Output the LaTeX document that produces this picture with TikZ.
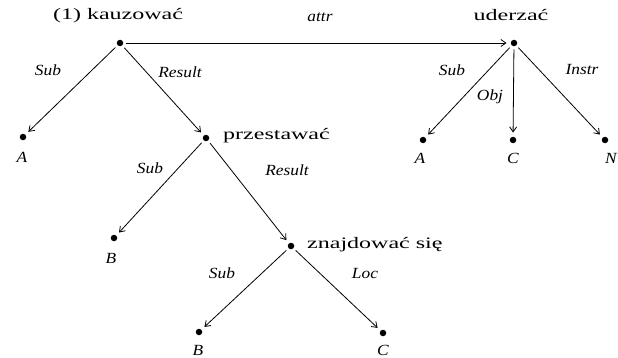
\documentclass[tikz,border=0pt]{standalone}
\usepackage{fontspec}
\setmainfont{Liberation Serif}
\newfontfamily\wordfont[FakeStretch=1.5]{Liberation Serif}
\newfontfamily\relfont[FakeStretch=1.12]{Liberation Serif Italic}
\usetikzlibrary{arrows.meta}
\begin{document}
\begin{tikzpicture}[x=1pt,y=1pt,
  pt/.style={circle,fill=black,inner sep=0pt,minimum size=6.5pt},
  word/.style={inner sep=0pt,font=\wordfont\fontsize{16}{16}\selectfont},
  rel/.style={inner sep=0pt,font=\relfont\fontsize{15.5}{15.5}\selectfont},
  arg/.style={inner sep=0pt,font=\relfont\fontsize{15.5}{15.5}\selectfont},
  link/.style={line width=0.8pt,-{Straight Barb[length=5pt,width=7pt]},shorten <=3pt,shorten >=4pt}]
\useasboundingbox (0,0) rectangle (618,357);
% predicate and argument points
\node[pt] (k) at (120,314) {};
\node[pt] (u) at (514,314) {};
\node[pt] (a1) at (23,220) {};
\node[pt] (p) at (206,219) {};
\node[pt] (b1) at (114,119) {};
\node[pt] (z) at (291,111) {};
\node[pt] (b2) at (199,25) {};
\node[pt] (c2) at (383,24) {};
\node[pt] (a2) at (423,217) {};
\node[pt] (c3) at (513,217) {};
\node[pt] (n3) at (605,217) {};
% predicate names
\node[word] (kl) at (118,341) {(1) kauzować};
\node[word] (ul) at (511,342) {uderzać};
\node[word,anchor=west] (pl) at (223,221) {przestawać};
\node[word,anchor=west] (zl) at (307,112) {znajdować się};
% argument names
\node[arg] (a1l) at (22,200) {A};
\node[arg] (b1l) at (111,99) {B};
\node[arg] (b2l) at (198,7) {B};
\node[arg] (c2l) at (383,7) {C};
\node[arg] (a2l) at (420,199) {A};
\node[arg] (c3l) at (513,199) {C};
\node[arg] (n3l) at (611,199) {N};
% relations
\draw[link] (k) -- (u);
\draw[link] (k) -- (a1);
\draw[link] (k) -- (p);
\draw[link] (p) -- (b1);
\draw[link] (p) -- (z);
\draw[link] (z) -- (b2);
\draw[link] (z) -- (c2);
\draw[link] (u) -- (a2);
\draw[link] (u) -- (c3);
\draw[link] (u) -- (n3);
% relation labels
\node[rel] (attr) at (320,340) {attr};
\node[rel] (s1) at (48,287) {Sub};
\node[rel] (r1) at (180,285) {Result};
\node[rel] (s2) at (150,189) {Sub};
\node[rel] (r2) at (287,187) {Result};
\node[rel] (s3) at (222,84) {Sub};
\node[rel] (loc) at (365,84) {Loc};
\node[rel] (s4) at (452,287) {Sub};
\node[rel] (obj) at (490,260) {Obj};
\node[rel] (ins) at (582,287) {Instr};
\end{tikzpicture}
\end{document}
